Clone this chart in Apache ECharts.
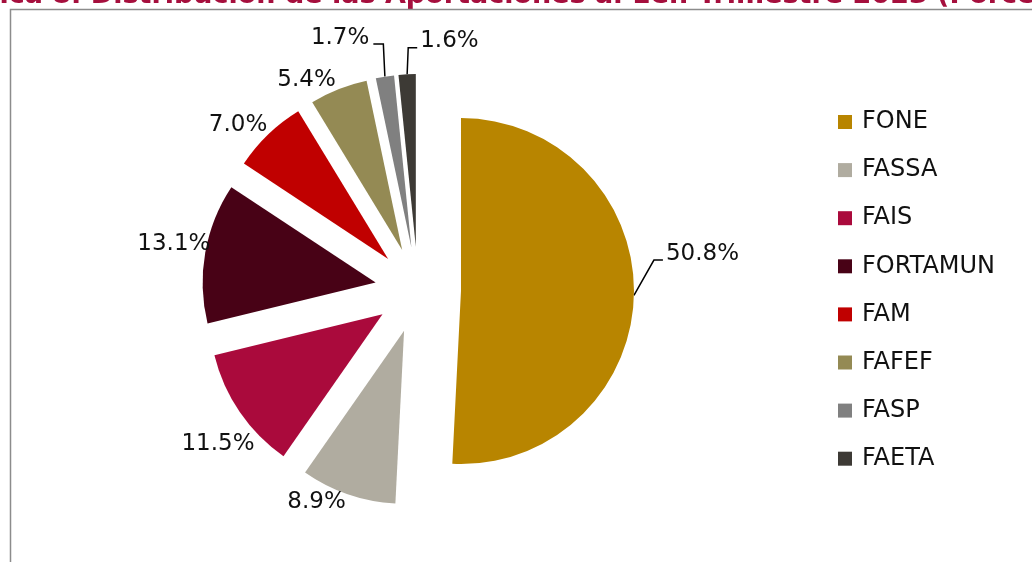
<!DOCTYPE html>
<html>
<head>
<meta charset="utf-8">
<script src="https://cdn.jsdelivr.net/npm/echarts@6/dist/echarts.min.js"></script>
<style>
html,body{margin:0;padding:0;background:#fff;}
#chart{width:1032px;height:562px;}
</style>
</head>
<body>
<div id="chart"></div>
<script>
var titleText = 'Gráfica 8. Distribución de las Aportaciones al 1er. Trimestre 2023 (Porcentaje)';
var categories = ['FONE', 'FASSA', 'FAIS', 'FORTAMUN', 'FAM', 'FAFEF', 'FASP', 'FAETA'];
var values = [50.8, 8.9, 11.5, 13.1, 7.0, 5.4, 1.7, 1.6];
var colors = ['#B88500', '#B0ACA0', '#AA0A3C', '#480216', '#C00000', '#948A54', '#808080', '#3D3A35'];
var showLine = [true, false, false, false, false, false, true, true];
// label nudges (style only)
var labelDx = [9, 14, 36, 28, 19, 14, -1, 85];
var labelDy = [-42, -2, 26, -7, -2, 0, -29, -23];
// side on which the leader line meets the label: 1 = line to the left of label, -1 = to the right
var lineSide = [1, 0, 0, 0, 0, 0, -1, 1];

var FONT = 'DejaVu Sans';
var data = categories.map(function (c, i) {
  return {
    name: c,
    value: values[i],
    selected: true,
    itemStyle: { color: colors[i] },
    select: { itemStyle: { color: colors[i] } },
    labelLine: { show: showLine[i] }
  };
});

var chart = echarts.init(document.getElementById('chart'));
chart.setOption({
  animation: false,
  graphic: [
    { type: 'text', left: -65, top: -18, z: 10,
      style: { text: titleText, fill: '#A50F3D', font: 'bold 27px "DejaVu Sans"' } },
    { type: 'polyline', z: 10,
      shape: { points: [[10.5, 562], [10.5, 9.5], [1032, 9.5]] },
      style: { stroke: '#8C8C8C', lineWidth: 1.5, fill: null } }
  ],
  legend: {
    orient: 'vertical',
    left: 838,
    top: 110,
    padding: 0,
    icon: 'rect',
    itemWidth: 14,
    itemHeight: 14,
    itemGap: 24.1,
    selectedMode: false,
    textStyle: { fontFamily: FONT, fontSize: 24, color: '#111', lineHeight: 24, padding: [0, 0, 0, 5] },
    data: categories
  },
  series: [{
    type: 'pie',
    center: [418, 290],
    radius: [0, 173],
    startAngle: 90,
    clockwise: true,
    selectedMode: 'multiple',
    selectedOffset: 43,
    avoidLabelOverlap: false,
    emphasis: { disabled: true },
    label: {
      show: true,
      position: 'outside',
      formatter: function (p) { return p.value.toFixed(1) + '%'; },
      fontFamily: FONT,
      fontSize: 23,
      color: '#111'
    },
    labelLine: {
      show: true,
      length: 10,
      length2: 8,
      lineStyle: { color: '#000', width: 1.5 }
    },
    labelLayout: function (p) {
      var i = p.dataIndex;
      var out = { dx: labelDx[i], dy: labelDy[i] };
      var pts = p.labelLinePoints;
      if (showLine[i] && pts && pts.length) {
        var r = p.labelRect;
        var x0 = r.x + labelDx[i], y0 = r.y + labelDy[i];
        var start = pts[0];
        var yLine = y0 + r.height * 0.78;
        var endX, midX;
        if (lineSide[i] > 0) {
          endX = x0 - 3;
          midX = endX - 9;
        } else {
          endX = x0 + r.width + 4;
          midX = endX + 10;
        }
        out.labelLinePoints = [[start[0], start[1]], [midX, yLine], [endX, yLine]];
      }
      return out;
    },
    data: data
  }]
});
</script>
</body>
</html>
